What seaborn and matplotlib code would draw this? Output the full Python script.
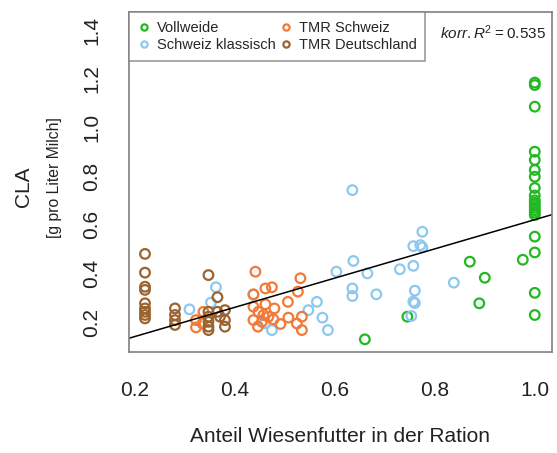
import matplotlib
matplotlib.use("Agg")
import matplotlib.pyplot as plt
from matplotlib.lines import Line2D
import numpy as np
import pandas as pd
import seaborn as sns

# Feeding groups
groups = ["Vollweide", "Schweiz klassisch", "TMR Schweiz", "TMR Deutschland"]
colors = ["#22b822", "#8cc8f0", "#f27a36", "#9c6330"]

# Vollweide
vw_x = [1.0] * 20 + [0.976, 0.87, 0.90, 0.889, 0.745, 0.66]
vw_y = [1.184, 1.174, 1.085, 0.900, 0.866, 0.825, 0.797, 0.751, 0.72, 0.70,
        0.69, 0.68, 0.67, 0.66, 0.65, 0.64, 0.551, 0.486, 0.320, 0.229,
        0.456, 0.448, 0.382, 0.277, 0.222, 0.129]

# Schweiz klassisch
sk_x = [0.635, 0.775, 0.757, 0.771, 0.775, 0.637, 0.603, 0.665, 0.73, 0.757,
        0.838, 0.635, 0.635, 0.683, 0.76, 0.757, 0.76, 0.753, 0.586, 0.564,
        0.547, 0.575, 0.474, 0.309, 0.362, 0.352, 0.437, 0.46]
sk_y = [0.742, 0.571, 0.512, 0.516, 0.507, 0.451, 0.407, 0.400, 0.417, 0.431,
        0.362, 0.338, 0.307, 0.314, 0.329, 0.284, 0.278, 0.225, 0.167, 0.283,
        0.249, 0.218, 0.167, 0.252, 0.343, 0.280, 0.312, 0.195]

# TMR Schweiz
ts_x = [0.441, 0.531, 0.461, 0.474, 0.437, 0.526, 0.506, 0.437, 0.461, 0.479,
        0.447, 0.457, 0.467, 0.437, 0.477, 0.507, 0.534, 0.446, 0.491, 0.524,
        0.534, 0.454, 0.322, 0.322, 0.337, 0.335]
ts_y = [0.407, 0.380, 0.338, 0.343, 0.314, 0.325, 0.283, 0.263, 0.273, 0.256,
        0.242, 0.229, 0.222, 0.208, 0.211, 0.218, 0.222, 0.181, 0.192, 0.194,
        0.167, 0.201, 0.208, 0.178, 0.242, 0.194]

# TMR Deutschland
td_x = [0.22] * 9 + [0.28] * 4 + [0.347] * 6 + [0.365, 0.365, 0.38, 0.38, 0.38, 0.37]
td_y = [0.48, 0.403, 0.345, 0.332, 0.277, 0.256, 0.242, 0.229, 0.215,
        0.256, 0.229, 0.208, 0.188,
        0.393, 0.242, 0.222, 0.201, 0.181, 0.167,
        0.302, 0.242, 0.249, 0.208, 0.181, 0.222]

r2_text = "0.535"
x_ticks = [0.2, 0.4, 0.6, 0.8, 1.0]
y_ticks = [0.2, 0.4, 0.6, 0.8, 1.0, 1.2, 1.4]

df = pd.concat([
    pd.DataFrame({"x": vw_x, "y": vw_y, "Gruppe": groups[0]}),
    pd.DataFrame({"x": sk_x, "y": sk_y, "Gruppe": groups[1]}),
    pd.DataFrame({"x": ts_x, "y": ts_y, "Gruppe": groups[2]}),
    pd.DataFrame({"x": td_x, "y": td_y, "Gruppe": groups[3]}),
], ignore_index=True)

sns.set_style("white")
plt.rcParams["font.family"] = ["Liberation Sans", "DejaVu Sans"]
plt.rcParams["mathtext.fontset"] = "custom"
plt.rcParams["mathtext.it"] = "Liberation Sans:italic"
plt.rcParams["mathtext.rm"] = "Liberation Sans"

fig = plt.figure(figsize=(5.57, 4.53), dpi=100)
ax = fig.add_axes([0.2316, 0.223, 0.759, 0.7505])
ax.set_xlim(0.188, 1.034)
ax.set_ylim(0.077, 1.474)

sns.scatterplot(data=df, x="x", y="y", hue="Gruppe", hue_order=groups,
                palette=colors, s=48, linewidth=1.6, legend=False, ax=ax)
# hollow circles: outline in the group colour, no fill
for coll in ax.collections:
    fc = coll.get_facecolors()
    coll.set_edgecolors(fc)
    coll.set_facecolors("none")

sns.regplot(data=df, x="x", y="y", scatter=False, ci=None, truncate=False,
            color="black", line_kws={"linewidth": 1.1}, ax=ax)

ax.set_xticks(x_ticks)
ax.set_xticklabels([f"{t:.1f}" for t in x_ticks])
ax.set_yticks(y_ticks)
ax.set_yticklabels([f"{t:.1f}" for t in y_ticks], rotation=90, va="center")
ax.tick_params(axis="both", direction="out", length=12, width=1, color="#808080",
               labelsize=15, labelcolor="#222222")
ax.tick_params(axis="x", pad=9)
ax.tick_params(axis="y", pad=8)
for sp in ax.spines.values():
    sp.set_color("#808080")
    sp.set_linewidth(1.2)

ax.set_xlabel("Anteil Wiesenfutter in der Ration", fontsize=15, color="#222222",
              labelpad=19)
ax.set_ylabel("")
fig.text(0.043, 0.587, "CLA", rotation=90, fontsize=15, ha="center", va="center",
         color="#222222")
fig.text(0.097, 0.609, "[g pro Liter Milch]", rotation=90, fontsize=11.3,
         ha="center", va="center", color="#222222")

handles = [Line2D([0], [0], marker="o", linestyle="none", markersize=4.5,
                  markerfacecolor="none", markeredgecolor=c, markeredgewidth=1.6)
           for c in colors]
leg = ax.legend(handles, groups, ncol=2, loc="upper left", bbox_to_anchor=(0, 1),
                borderaxespad=0, frameon=True, fancybox=False, fontsize=10.5,
                handlelength=0.8, handletextpad=0.5, columnspacing=0.3,
                labelspacing=0.25, borderpad=0.6)
leg.get_frame().set_edgecolor("#808080")
leg.get_frame().set_linewidth(1.2)

ax.text(0.985, 0.94, r"$korr.R^2$" + "\u2009=\u2009" + r2_text,
        transform=ax.transAxes, ha="right", va="center", fontsize=11,
        color="#222222")

fig.savefig("out.png", dpi=100)
